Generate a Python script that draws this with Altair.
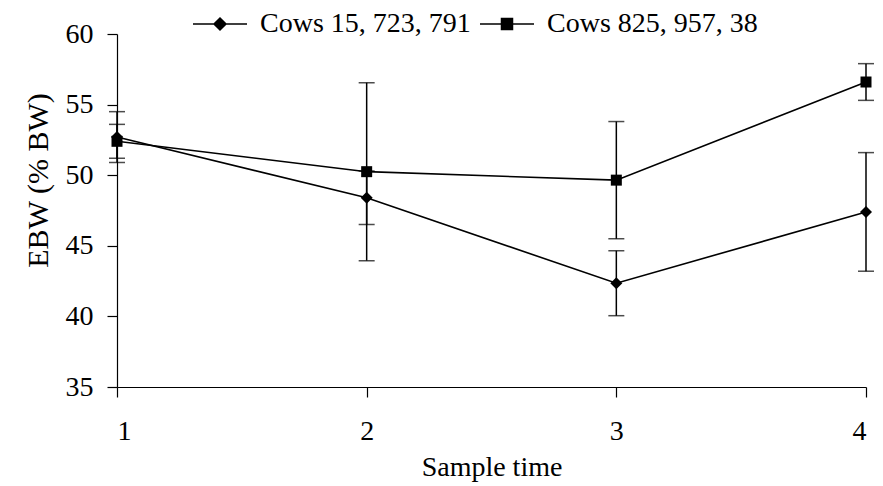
import altair as alt
import pandas as pd

times = [1, 2, 3, 4]
series_names = ["Cows 15, 723, 791", "Cows 825, 957, 38"]
ebw_a = [52.7, 48.4, 42.35, 47.4]
err_a = [1.8, 1.9, 2.3, 4.2]
ebw_b = [52.4, 50.25, 49.65, 56.6]
err_b = [1.2, 6.3, 4.15, 1.3]

rows = []
for name, vals, errs in ((series_names[0], ebw_a, err_a), (series_names[1], ebw_b, err_b)):
    for t, v, e in zip(times, vals, errs):
        rows.append({"time": t, "ebw": v, "lo": v - e, "hi": v + e, "series": name})
df = pd.DataFrame(rows)

FONT = "Liberation Serif"
diamond_mark = "M0,-0.6L0.6,0L0,0.6L-0.6,0Z"
square_mark = "M-0.55,-0.55H0.55V0.55H-0.55Z"
diamond_legend = "M-2.7,0H2.7M0,-0.6L0.6,0L0,0.6L-0.6,0Z"
square_legend = "M-2.7,0H2.7M-0.55,-0.55H0.55V0.55H-0.55Z"

xscale = alt.Scale(domain=[1, 4], nice=False)
yscale = alt.Scale(domain=[35, 60], nice=False, zero=False)

xaxis = alt.Axis(values=times, format="d", title="Sample time")
yaxis = alt.Axis(values=[35, 40, 45, 50, 55, 60], title="EBW (% BW)")

base = alt.Chart(df)
X = alt.X("time:Q", scale=xscale, axis=xaxis)

rules = base.mark_rule(color="black", strokeWidth=1.5).encode(
    x=X, y=alt.Y("lo:Q", scale=yscale, axis=yaxis), y2="hi:Q", detail="series:N")
caps_lo = base.mark_tick(color="black", orient="horizontal", size=16, thickness=1.5).encode(
    x=X, y=alt.Y("lo:Q", scale=yscale, axis=yaxis), detail="series:N")
caps_hi = base.mark_tick(color="black", orient="horizontal", size=16, thickness=1.5).encode(
    x=X, y=alt.Y("hi:Q", scale=yscale, axis=yaxis), detail="series:N")

lines = base.mark_line(color="black", strokeWidth=1.6).encode(
    x=X, y=alt.Y("ebw:Q", scale=yscale, axis=yaxis), detail="series:N")

points = base.mark_point(filled=True, color="black", opacity=1, size=400).encode(
    x=X,
    y=alt.Y("ebw:Q", scale=yscale, axis=yaxis),
    shape=alt.Shape("series:N",
                    scale=alt.Scale(domain=series_names, range=[diamond_mark, square_mark]),
                    legend=None),
)

legend_pts = base.mark_point(filled=False, color="black", fill="black", opacity=0,
                             size=400, strokeWidth=1.5).encode(
    x=X,
    y=alt.Y("ebw:Q", scale=yscale, axis=yaxis),
    shape=alt.Shape("series:N",
                    scale=alt.Scale(domain=series_names, range=[diamond_legend, square_legend]),
                    legend=alt.Legend(title=None, orient="none", direction="horizontal",
                                      legendX=89, legendY=-24, symbolOpacity=1,
                                      symbolSize=400, labelOffset=26, columnPadding=6,
                                      labelLimit=500)),
)

chart = (
    alt.layer(rules, caps_lo, caps_hi, lines, points, legend_pts)
    .resolve_scale(shape="independent")
    .properties(
        width=749, height=353,
        padding={"left": 117, "top": 34, "right": 17, "bottom": 99},
        autosize=alt.AutoSizeParams(type="none"),
    )
    .configure_view(stroke=None)
    .configure_axis(grid=False, labelFont=FONT, labelFontSize=28, titleFont=FONT,
                    titleFontSize=28, titleFontWeight="normal", labelColor="black",
                    titleColor="black", domainColor="black", tickColor="black",
                    tickSize=10, domainWidth=1.2, tickWidth=1.2)
    .configure_axisX(labelPadding=20, titlePadding=8)
    .configure_axisY(labelPadding=14, titlePadding=12, titleFontSize=30, titleY=146)
    .configure_legend(labelFont=FONT, labelFontSize=28, labelColor="black")
)

chart.save("out.html", embed_options={"renderer": "svg", "actions": False})
